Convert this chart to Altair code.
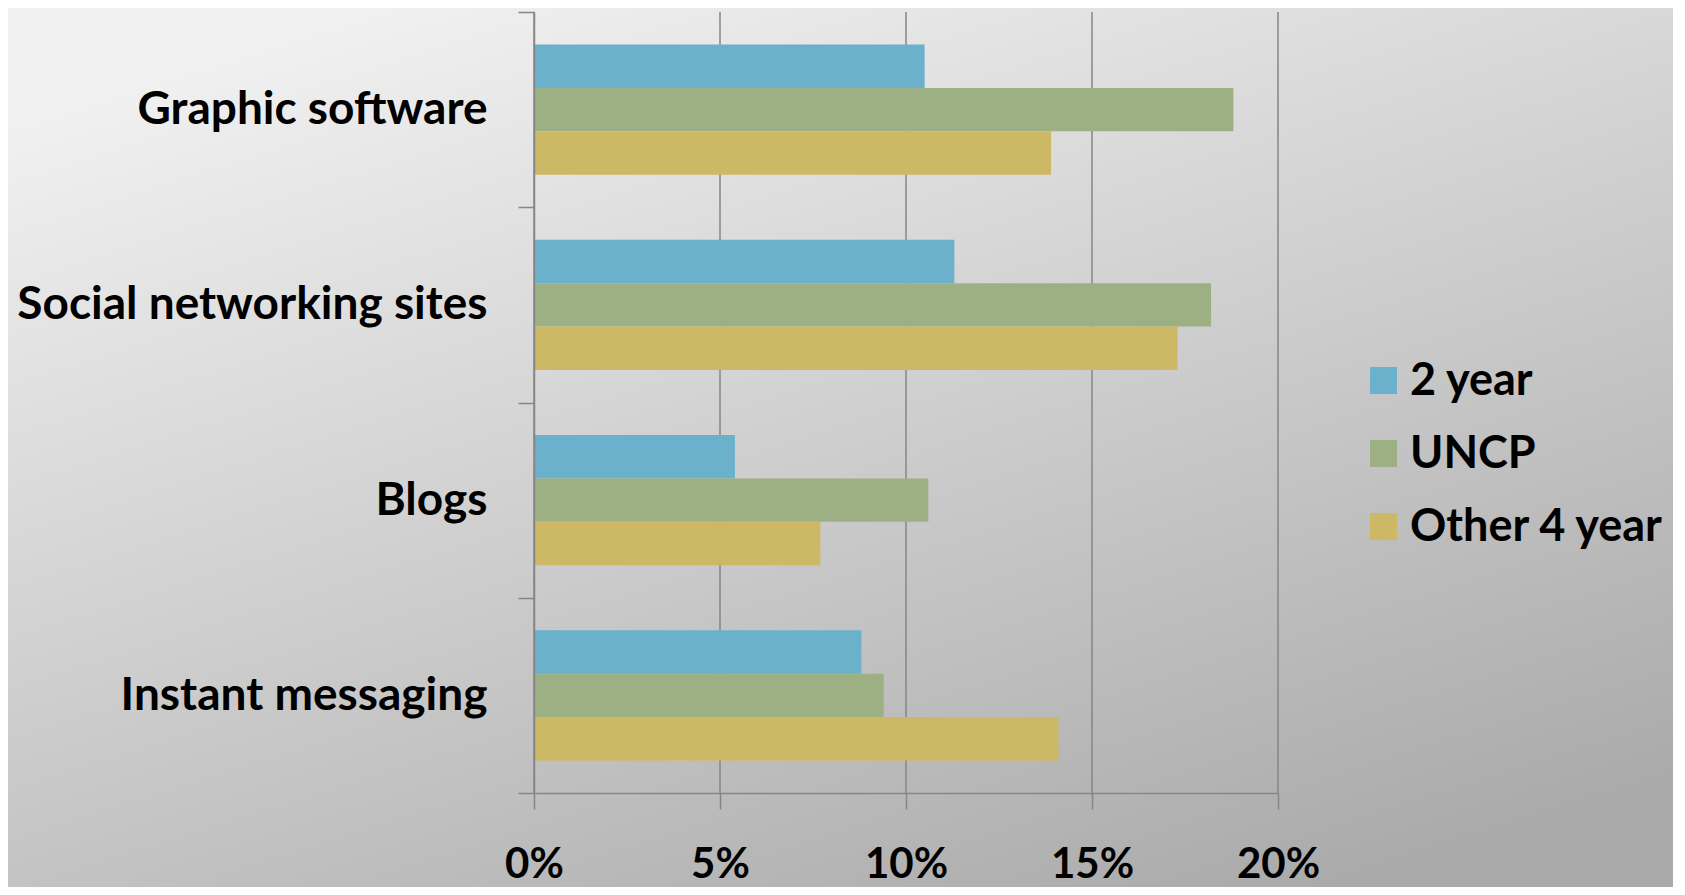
import altair as alt
import pandas as pd

categories = ["Graphic software", "Social networking sites", "Blogs", "Instant messaging"]
series = ["2 year", "UNCP", "Other 4 year"]
two_year = [10.5, 11.3, 5.4, 8.8]
uncp = [18.8, 18.2, 10.6, 9.4]
other_4_year = [13.9, 17.3, 7.7, 14.1]
tick_values = [0, 0.05, 0.10, 0.15, 0.20]
colors = ["#6BB1CB", "#9CB084", "#CDB866"]

rows = []
for s, vals in zip(series, [two_year, uncp, other_4_year]):
    for c, v in zip(categories, vals):
        rows.append({"category": c, "series": s, "value": v / 100})
df = pd.DataFrame(rows)
grid_df = pd.DataFrame({"tick": tick_values})

W, H = 744, 781
PL, PT, PR, PB = 526, 4, 395, 94
FONT = "Lato"

bg = alt.Chart(pd.DataFrame({"a": [0]})).mark_rect(
    color=alt.Gradient(
        gradient="linear", x1=0.2, y1=0, x2=0.8, y2=1,
        stops=[alt.GradientStop(color="#f1f1f1", offset=0),
               alt.GradientStop(color="#aaaaaa", offset=1)],
    )
).encode(
    x=alt.value(-PL), x2=alt.value(W + PR),
    y=alt.value(-PT), y2=alt.value(H + PB),
)

grid = alt.Chart(grid_df).mark_rule(color="#868686", strokeWidth=1.5).encode(
    x=alt.X("tick:Q", scale=alt.Scale(domain=[0, 0.2], nice=False))
)

bars = alt.Chart(df).mark_bar().encode(
    x=alt.X("value:Q", scale=alt.Scale(domain=[0, 0.2], nice=False),
            axis=alt.Axis(values=tick_values, format=".0%", grid=False,
                          title=None, tickSize=16, tickColor="#868686",
                          domainColor="#868686", domainWidth=1.5, tickWidth=1.5,
                          labelFont=FONT, labelFontSize=42, labelFontWeight="bold",
                          labelColor="#000000", labelPadding=35, labelLimit=0,
                          labelOverlap=False, labelFlush=False, zindex=1)),
    y=alt.Y("category:N", sort=categories,
            scale=alt.Scale(paddingInner=0, paddingOuter=0),
            axis=alt.Axis(title=None, tickBand="extent", tickSize=16,
                          tickColor="#868686", domainColor="#868686",
                          domainWidth=1.5, tickWidth=1.5,
                          labelFont=FONT, labelFontSize=46, labelFontWeight="bold",
                          labelColor="#000000", labelPadding=31, labelLimit=0,
                          zindex=1)),
    yOffset=alt.YOffset("series:N", sort=series,
                        scale=alt.Scale(paddingInner=0, paddingOuter=0.75)),
    color=alt.Color("series:N", sort=series,
                    scale=alt.Scale(domain=series, range=colors),
                    legend=alt.Legend(title=None, orient="none", legendX=827,
                                      legendY=346, symbolType="square",
                                      symbolSize=729, symbolStrokeWidth=0,
                                      symbolOpacity=1,
                                      labelFont=FONT, labelFontSize=45,
                                      labelFontWeight="bold", labelColor="#000000",
                                      labelOffset=4, labelLimit=0, rowPadding=27,
                                      padding=0, zindex=1)),
)

chart = alt.layer(bg, grid, bars).properties(
    width=W, height=H,
    padding={"left": PL, "top": PT, "right": PR, "bottom": PB},
    autosize=alt.AutoSizeParams(type="none"),
    background="#d0d0d0",
).configure_view(stroke=None)

chart.save("out.html", embed_options={"renderer": "svg", "actions": False})
